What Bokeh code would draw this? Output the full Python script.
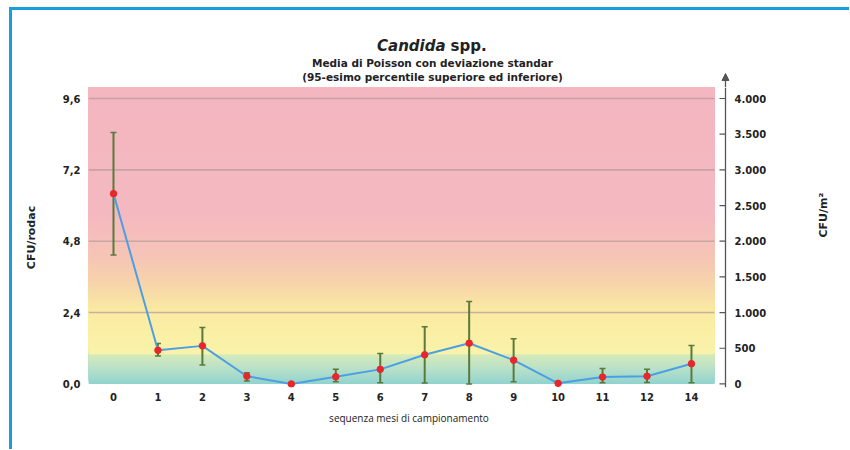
import math
import numpy as np
from bokeh.plotting import figure
from bokeh.layouts import column
from bokeh.models import Range1d, LinearAxis, FixedTicker, ColumnDataSource, Arrow, NormalHead
from bokeh.core.properties import value
from bokeh.embed import file_html
from bokeh.resources import INLINE

# ---------------- data ----------------
months = ["0", "1", "2", "3", "4", "5", "6", "7", "8", "9", "10", "11", "12", "14"]
mean_cfu = [6.40, 1.13, 1.28, 0.26, 0.00, 0.24, 0.49, 0.98, 1.37, 0.80, 0.02, 0.23, 0.26, 0.68]
upper_cfu = [8.46, 1.36, 1.90, 0.38, 0.00, 0.49, 1.02, 1.92, 2.77, 1.52, 0.02, 0.52, 0.49, 1.29]
lower_cfu = [4.34, 0.94, 0.64, 0.10, 0.00, 0.07, 0.04, 0.03, 0.00, 0.07, 0.02, 0.04, 0.05, 0.04]

left_ticks = [0.0, 2.4, 4.8, 7.2, 9.6]
left_tick_labels = ["0,0", "2,4", "4,8", "7,2", "9,6"]
right_ticks = [0, 500, 1000, 1500, 2000, 2500, 3000, 3500, 4000]
right_tick_labels = ["0", "500", "1.000", "1.500", "2.000", "2.500", "3.000", "3.500", "4.000"]
grid_levels = [2.4, 4.8, 7.2, 9.6]
RODAC_TO_M2 = 4000 / 9.6

title_main = "Candida"
title_suffix = "spp."
subtitle_1 = "Media di Poisson con deviazione standar"
subtitle_2 = "(95-esimo percentile superiore ed inferiore)"

# ---------------- layout constants ----------------
W = 837
LEFT_B = 76
FRAME_W = 641
PX = 44.46                     # pixels per x unit
X0 = -0.562                    # frame x start
X1 = X0 + FRAME_W / PX         # frame x end
X_AX = X0 + 637 / PX           # position of the drawn right axis line
BG_RIGHT = 13.52               # background right edge
Y0, Y1 = -0.12, 9.97           # frame y range
TITLE_H = 77
FONT = "DejaVu Sans"
TXT = "#222222"
AX = "#555555"
BLUE = "#1a9edb"

xr = Range1d(X0, X1)
p = figure(width=W, height=362, output_backend="svg", toolbar_location=None,
           x_range=xr, y_range=Range1d(Y0, Y1),
           min_border_left=LEFT_B, min_border_right=W - LEFT_B - FRAME_W, min_border_top=0,
           min_border_bottom=62, background_fill_color="white",
           border_fill_color="white", outline_line_color=None)
p.xgrid.visible = False
p.ygrid.visible = False

# ---------------- background gradient ----------------
bg_stops = [(0.0, (145, 211, 207)), (0.5, (184, 225, 201)), (0.99, (214, 235, 186)),
            (1.0, (251, 243, 170)), (2.4, (250, 236, 162)), (3.3, (248, 214, 170)),
            (4.3, (246, 197, 183)), (5.6, (245, 186, 192)), (10.0, (244, 182, 193))]
sv = np.array([s[0] for s in bg_stops])
sc = np.array([s[1] for s in bg_stops], dtype=float)
n = 300
bottoms = np.linspace(0, Y1, n, endpoint=False)
mids = bottoms + (Y1 / n) / 2
cols = []
for m in mids:
    r = np.interp(m, sv, sc[:, 0]); g = np.interp(m, sv, sc[:, 1]); b = np.interp(m, sv, sc[:, 2])
    cols.append("#%02x%02x%02x" % (int(r), int(g), int(b)))
p.quad(left=[X0] * n, right=[BG_RIGHT] * n, bottom=list(bottoms), top=[Y1] * n,
       fill_color=cols, line_color=None)

p.segment(x0=[X0] * len(grid_levels), x1=[BG_RIGHT] * len(grid_levels),
          y0=grid_levels, y1=grid_levels, line_color="#b89c9c", line_width=1.6, line_alpha=0.75)

# ---------------- data marks ----------------
xs = list(range(len(months)))
src = ColumnDataSource(dict(x=xs, m=mean_cfu, lo=lower_cfu, hi=upper_cfu))
p.segment(x0="x", x1="x", y0="lo", y1="hi", source=src, line_color="#5a7a3a", line_width=2)
p.scatter(x="x", y="hi", source=src, marker="dash", size=6, line_color="#5a7a3a", line_width=1.5)
p.scatter(x="x", y="lo", source=src, marker="dash", size=6, line_color="#5a7a3a", line_width=1.5)
p.line(x="x", y="m", source=src, line_color="#4c9fe2", line_width=2)
p.scatter(x="x", y="m", source=src, marker="circle", size=6.5, fill_color="#e8262b", line_color="#e8262b")

# ---------------- axes ----------------
def style_labels(ax, size="10px"):
    ax.major_label_text_font = FONT
    ax.major_label_text_font_style = "bold"
    ax.major_label_text_font_size = size
    ax.major_label_text_color = TXT

def no_ticks(ax):
    ax.axis_line_color = None
    ax.major_tick_line_color = None
    ax.major_tick_in = 0
    ax.major_tick_out = 0
    ax.minor_tick_line_color = None
    ax.minor_tick_in = 0
    ax.minor_tick_out = 0

xa = p.xaxis[0]
xa.ticker = FixedTicker(ticks=xs)
xa.major_label_overrides = {i: months[i] for i in xs}
no_ticks(xa)
xa.major_label_standoff = 5
style_labels(xa)
xa.axis_label = "sequenza mesi di campionamento"
xa.axis_label_text_font = "Open Sans"
xa.axis_label_text_font_style = "normal"
xa.axis_label_text_font_size = "10px"
xa.axis_label_text_color = TXT
xa.axis_label_standoff = 7

ya = p.yaxis[0]
ya.ticker = FixedTicker(ticks=left_ticks)
ya.major_label_overrides = {t: l for t, l in zip(left_ticks, left_tick_labels)}
no_ticks(ya)
ya.major_label_standoff = 8
style_labels(ya)
ya.axis_label = "CFU/rodac"
ya.axis_label_text_font = FONT
ya.axis_label_text_font_style = "bold"
ya.axis_label_text_font_size = "11px"
ya.axis_label_text_color = TXT
ya.axis_label_standoff = 22

p.extra_y_ranges = {"m2": Range1d(Y0 * RODAC_TO_M2, Y1 * RODAC_TO_M2)}
ra = LinearAxis(y_range_name="m2", ticker=FixedTicker(ticks=right_ticks))
ra.major_label_overrides = {t: l for t, l in zip(right_ticks, right_tick_labels)}
no_ticks(ra)
ra.major_label_standoff = 5
style_labels(ra)
ra.axis_label = "CFU/m²"
ra.axis_label_text_font = FONT
ra.axis_label_text_font_style = "bold"
ra.axis_label_text_font_size = "11px"
ra.axis_label_text_color = TXT
ra.axis_label_standoff = 54
try:
    ra.axis_label_orientation = math.pi / 2
    ra.axis_label_text_align = "right"
except Exception:
    pass
p.add_layout(ra, "right")

# drawn right axis line and its inward ticks (on the m2 scale)
p.segment(x0=[X_AX], x1=[X_AX], y0=[Y0], y1=[Y1], line_color=AX, line_width=1.3)
tick_len = 6 / PX
p.segment(x0=[X_AX - tick_len] * len(right_ticks), x1=[X_AX] * len(right_ticks),
          y0=right_ticks, y1=right_ticks, y_range_name="m2", line_color=AX, line_width=1.2)

# ---------------- title strip (frames are aligned in the column) ----------------
tf = figure(width=W, height=TITLE_H, output_backend="svg", toolbar_location=None,
            x_range=xr, y_range=Range1d(0, TITLE_H),
            min_border_left=LEFT_B, min_border_right=W - LEFT_B - FRAME_W,
            min_border_top=0, min_border_bottom=0,
            outline_line_color=None, x_axis_type=None, y_axis_type=None,
            background_fill_color="white", border_fill_color="white")
tf.grid.visible = False

tf.text(x=[7.47], y=[42], text=[title_main], text_font=value(FONT), text_font_style="bold italic",
        text_font_size="15px", text_color=TXT, text_align="right", text_baseline="middle")
tf.text(x=[7.58], y=[42], text=[title_suffix], text_font=value(FONT), text_font_style="bold",
        text_font_size="15px", text_color=TXT, text_align="left", text_baseline="middle")
tf.text(x=[7.175], y=[25], text=[subtitle_1], text_font=value(FONT), text_font_style="bold",
        text_font_size="10.5px", text_color=TXT, text_align="center", text_baseline="middle")
tf.text(x=[7.175], y=[11], text=[subtitle_2], text_font=value(FONT), text_font_style="bold",
        text_font_size="10.5px", text_color=TXT, text_align="center", text_baseline="middle")

# arrow continuing the right axis
tf.add_layout(Arrow(end=NormalHead(size=7, fill_color=AX, line_color=AX, line_width=1),
                    x_start=X_AX, y_start=0, x_end=X_AX, y_end=14,
                    line_color=AX, line_width=1.3))

layout = column(tf, p, spacing=0,
                styles={"border-top": "3px solid " + BLUE, "border-left": "3px solid " + BLUE,
                        "margin-left": "9px", "margin-top": "7px"})

open("out.html", "w").write(file_html(layout, INLINE))
